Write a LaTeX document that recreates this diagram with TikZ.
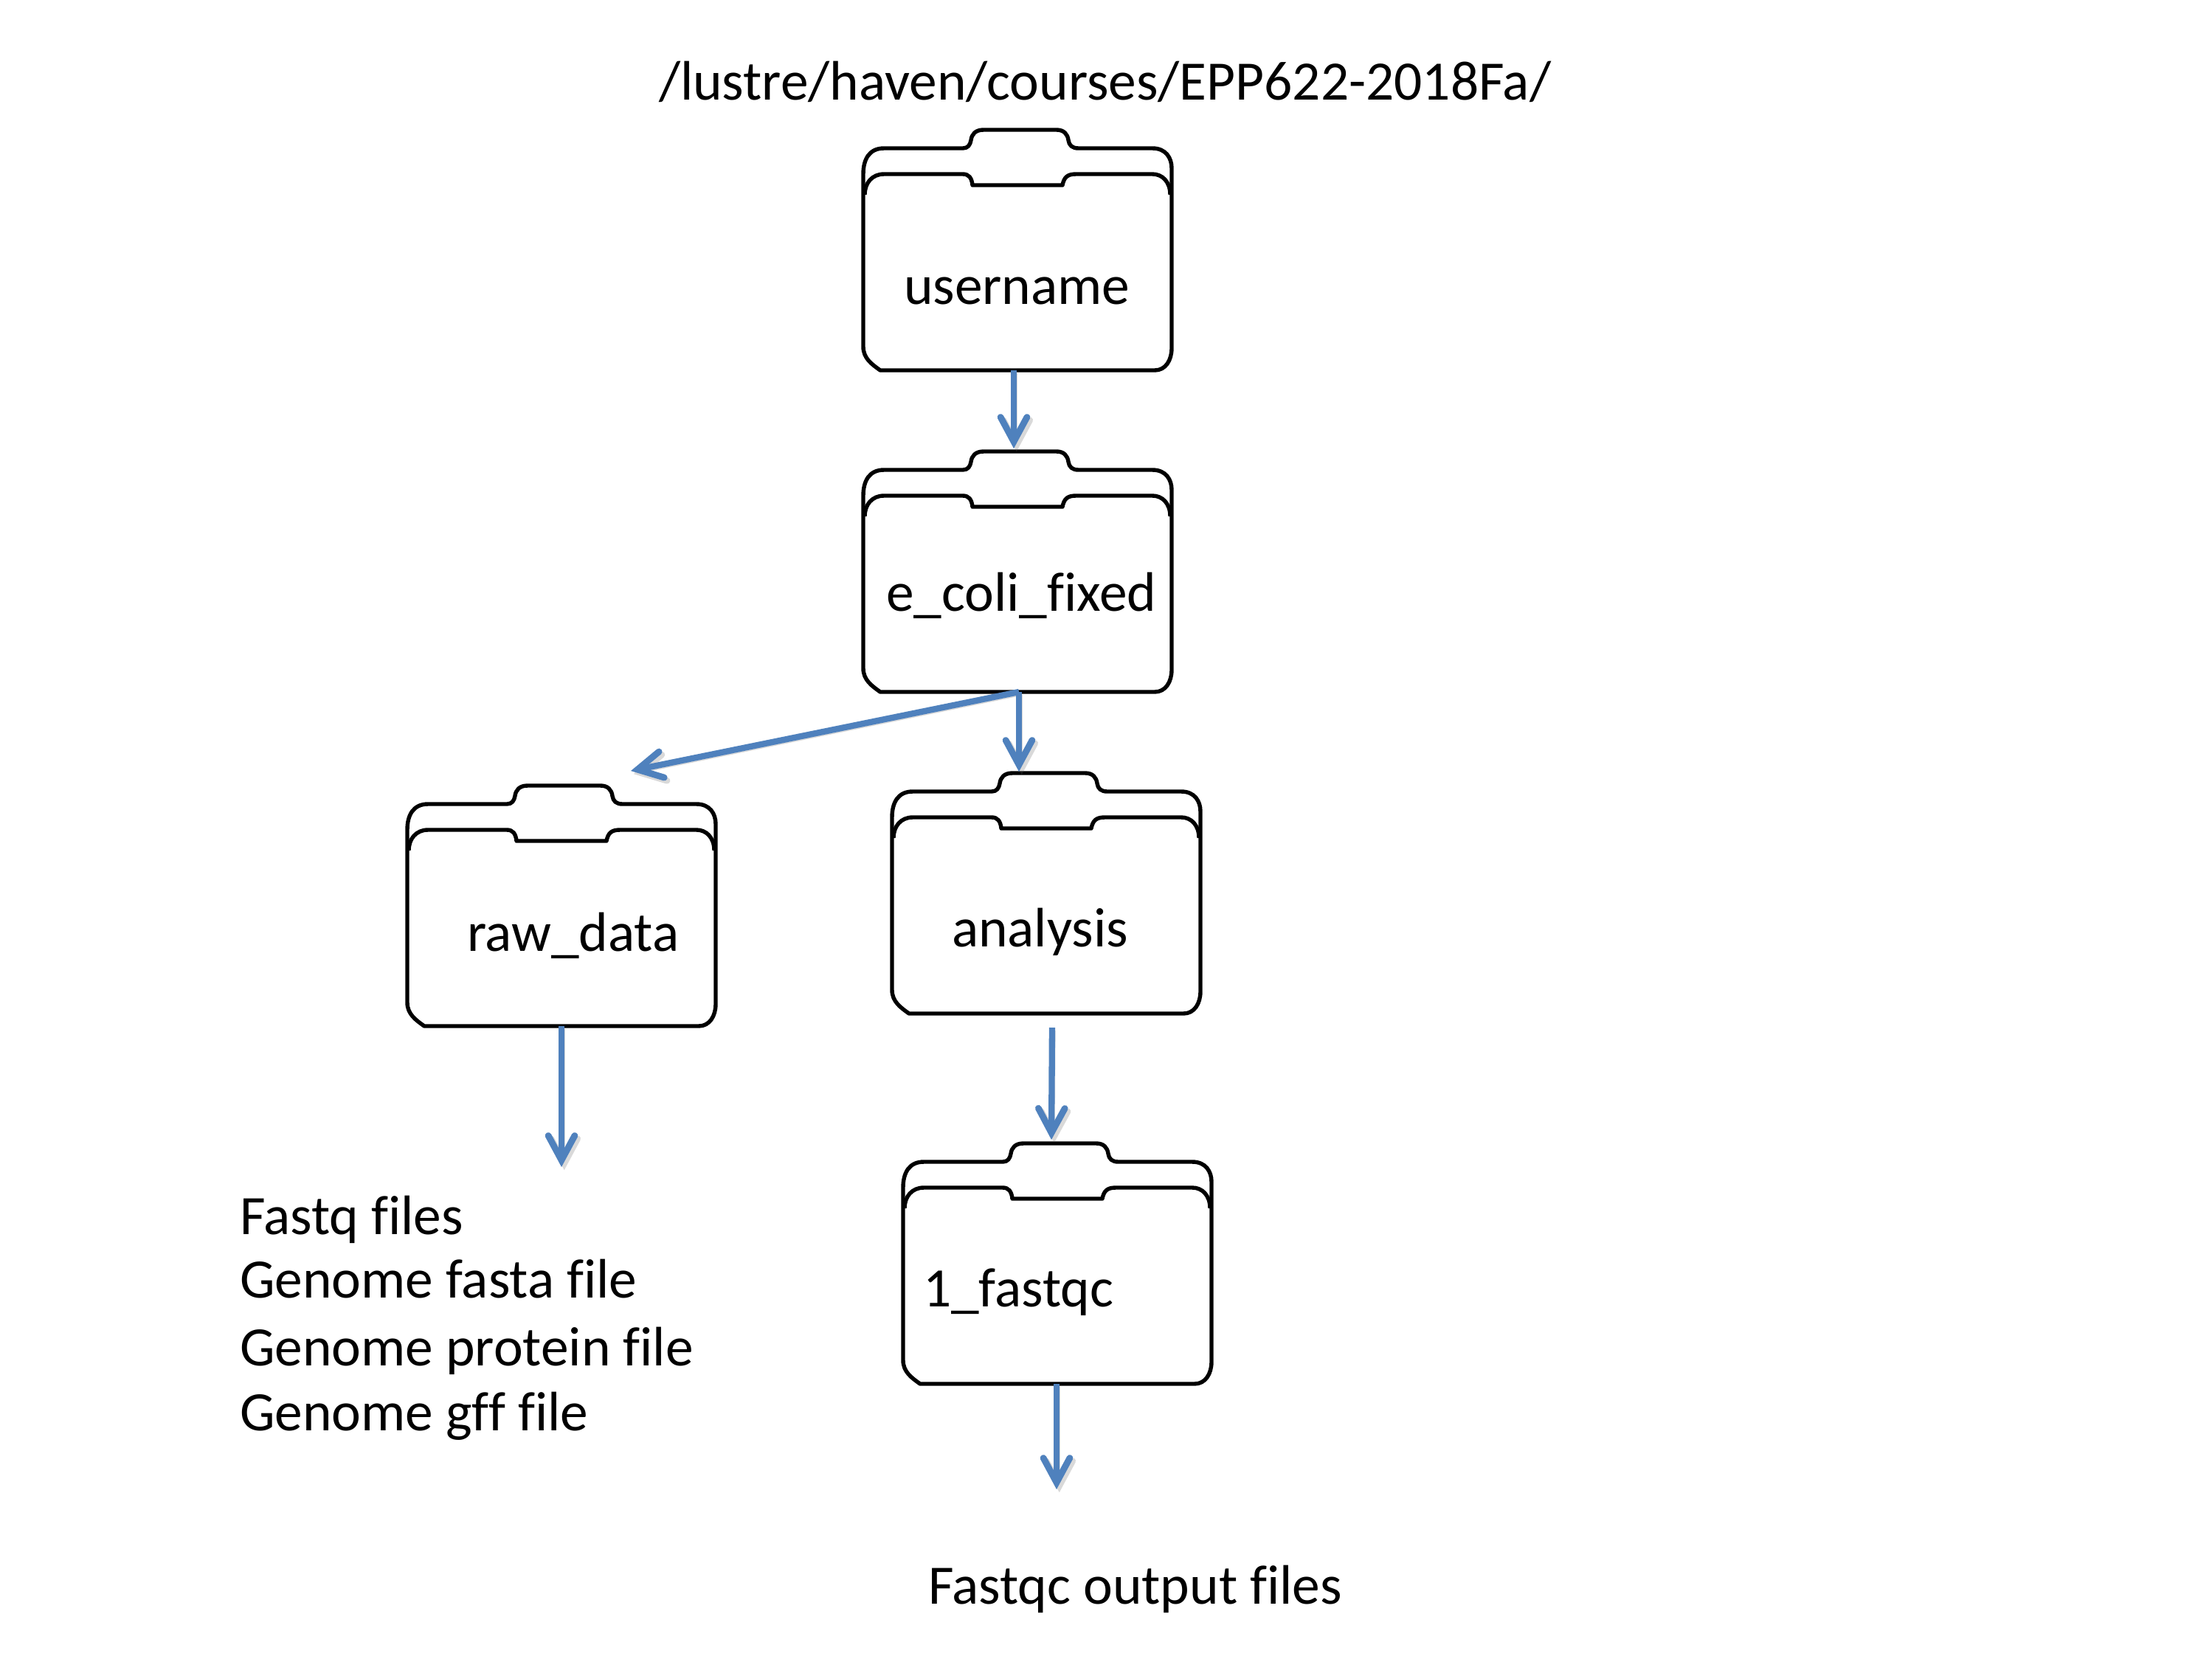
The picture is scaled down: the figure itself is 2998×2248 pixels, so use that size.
\documentclass[tikz,border=0pt]{standalone}
\usepackage{fontspec}
\setmainfont[Ligatures=NoCommon]{Carlito}
\usetikzlibrary{arrows.meta}
\definecolor{arrowblue}{HTML}{4F81BD}
\tikzset{
  foldline/.style={draw=black,line width=1.3pt,fill=white,line join=round},
  foldbox/.style={minimum width=100.32pt,minimum height=78.24pt,inner sep=0pt,outer sep=0pt},
  lbl/.style={anchor=base west,inner sep=0pt,outer sep=0pt,font=\fontsize{18.1pt}{22pt}\selectfont},
  conn/.style={draw=arrowblue,line width=2pt,
    -{Straight Barb[length=8pt,width=8.6pt,line width=2.1pt,line cap=round,line join=miter]},
    preaction={draw=black!60,draw opacity=.25,transform canvas={xshift=.9pt,yshift=-1pt}}},
}
\newcommand{\folder}[3]{%
  \begin{scope}[shift={(#2,#3)}]
    \draw[foldline] (0,60) .. controls (0,40) and (8,25) .. (28,25) -- (135,25)
      .. controls (142,25) and (145,20) .. (146,14) .. controls (147,6) and (152,0) .. (163,0)
      -- (262,0) .. controls (272,0) and (277,6) .. (278,14) .. controls (279,21) and (283,25) .. (292,25)
      -- (392,25) .. controls (410,25) and (418,38) .. (418,52) -- (418,296)
      .. controls (418,312) and (410,326) .. (395,326) -- (23,326)
      .. controls (12,318) and (0,310) .. (0,294) -- cycle;
    \draw[foldline,fill=none] (2,88) .. controls (2,72) and (12,60) .. (28,60) -- (135,60)
      .. controls (143,60) and (147,65) .. (148,75) -- (270,75)
      .. controls (272,65) and (276,60) .. (288,60) -- (392,60)
      .. controls (405,60) and (416,70) .. (416,88);
    \node[foldbox] (#1) at (209,163) {};
  \end{scope}}
\begin{document}
\begin{tikzpicture}[x=0.24pt,y=-0.24pt]
  \useasboundingbox (0,0) rectangle (2998,2248);
  \folder{fu}{1170}{176}
  \folder{fe}{1170}{612}
  \folder{fr}{552}{1065}
  \folder{fa}{1209}{1048}
  \folder{ff}{1224}{1550}

  \node[lbl] (title) at (893,135) {/lustre/haven/courses/EPP622-2018Fa/};
  \node[lbl] (tu) at (1225,412) {username};
  \node[lbl] (te) at (1201,828) {e\_coli\_fixed};
  \node[lbl] (tr) at (633,1289) {raw\_data};
  \node[lbl] (ta) at (1290,1283) {analysis};
  \node[lbl] (tf) at (1251,1771) {1\_fastqc};
  \node[lbl] (l1) at (325,1673) {Fastq files};
  \node[lbl] (l2) at (325,1759) {Genome fasta file};
  \node[lbl] (l3) at (325,1851) {Genome protein file};
  \node[lbl] (l4) at (325,1939) {Genome gff file};
  \node[lbl] (out) at (1258,2174) {Fastqc output files};

  \coordinate (fastqin) at (761,1582);
  \coordinate (outin) at (1432,2019);

  \draw[conn] ([xshift=-5*.24pt]fu.south) -- ([xshift=-5*.24pt,yshift=4*.24pt]fe.north);
  \draw[conn] ([xshift=2*.24pt]fe.south) -- ([shift={(94*.24pt,20*.24pt)}]fr.north);
  \draw[conn] ([xshift=2*.24pt]fe.south) -- ([xshift=-37*.24pt,yshift=2*.24pt]fa.north);
  \draw[conn] (fr.south) -- (fastqin);
  \draw[conn] ([xshift=8*.24pt,yshift=-19*.24pt]fa.south) -- ([xshift=-8*.24pt,yshift=5*.24pt]ff.north);
  \draw[conn] ([xshift=-1*.24pt]ff.south) -- (outin);
\end{tikzpicture}
\end{document}
